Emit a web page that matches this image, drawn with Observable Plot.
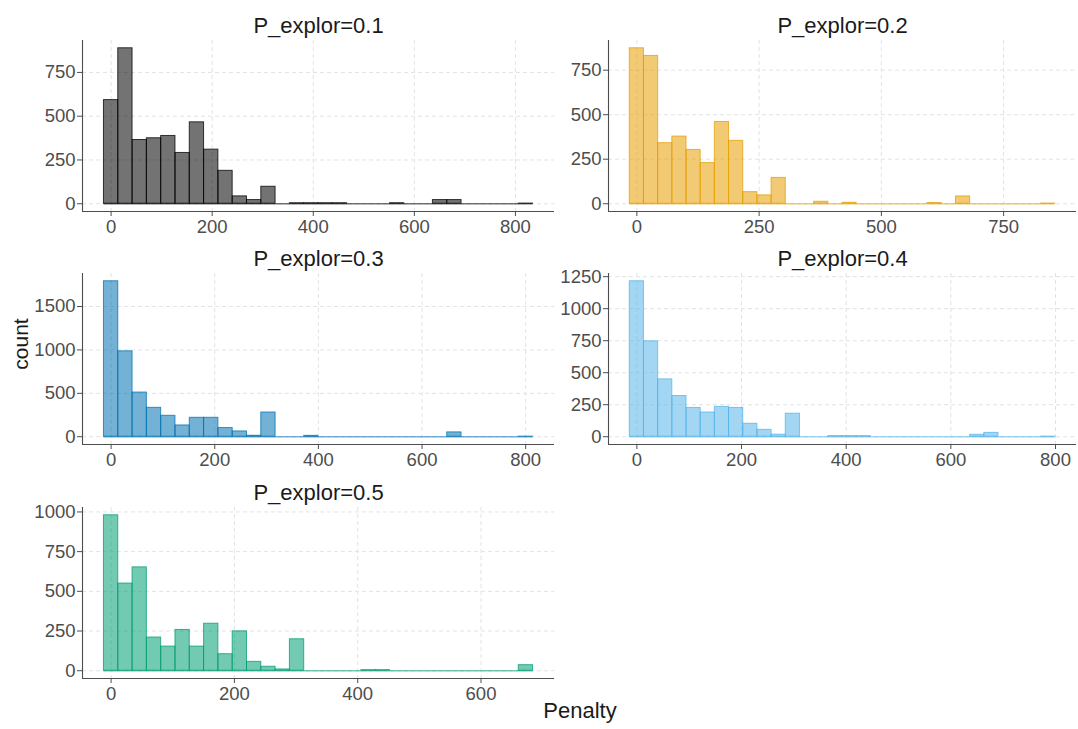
<!DOCTYPE html>
<html><head><meta charset="utf-8">
<script src="https://cdn.jsdelivr.net/npm/d3@7"></script>
<script src="https://cdn.jsdelivr.net/npm/@observablehq/plot@0.6"></script>
<style>
body{margin:0;background:#fff;}
#chart{position:relative;width:1078px;height:729px;font-family:"Liberation Sans",Arial,sans-serif;overflow:hidden;background:#fff;}
.panel{position:absolute;}
.lab{position:absolute;color:#1a1a1a;white-space:nowrap;line-height:22px;}
</style></head><body><div id="chart"></div>
<script>
// ---- data ----
const titles = ["P_explor=0.1", "P_explor=0.2", "P_explor=0.3", "P_explor=0.4", "P_explor=0.5"];
const colors = ["#000000", "#E69F00", "#0072B2", "#56B4E9", "#009E73"];
const binWidths = [28.3, 29.0, 27.6, 27.1, 23.2];

const counts01 = [592, 888, 364, 374, 387, 290, 465, 309, 188, 42, 21, 97, 0, 3, 3, 3, 3, 0, 0, 0, 3, 0, 0, 21, 21, 0, 0, 0, 0, 1];
const counts02 = [873, 830, 340, 377, 302, 228, 459, 353, 65, 47, 145, 0, 0, 11, 0, 5, 0, 0, 0, 0, 0, 4, 0, 41, 0, 0, 0, 0, 0, 1];
const counts03 = [1791, 984, 509, 333, 241, 130, 218, 218, 100, 61, 11, 279, 0, 0, 10, 0, 0, 0, 0, 0, 0, 0, 0, 0, 50, 0, 0, 0, 0, 1];
const counts04 = [1214, 745, 448, 318, 225, 189, 233, 225, 101, 54, 16, 180, 0, 0, 5, 5, 5, 0, 0, 0, 0, 0, 0, 0, 15, 30, 0, 0, 0, 1];
const counts05 = [979, 549, 651, 209, 152, 257, 152, 296, 104, 248, 56, 25, 8, 198, 0, 0, 0, 0, 4, 4, 0, 0, 0, 0, 0, 0, 0, 0, 0, 35];

const xTicks01 = [0, 200, 400, 600, 800];
const xTicks02 = [0, 250, 500, 750];
const xTicks03 = [0, 200, 400, 600, 800];
const xTicks04 = [0, 200, 400, 600, 800];
const xTicks05 = [0, 200, 400, 600];

const yTicks01 = [0, 250, 500, 750];
const yTicks02 = [0, 250, 500, 750];
const yTicks03 = [0, 500, 1000, 1500];
const yTicks04 = [0, 250, 500, 750, 1000, 1250];
const yTicks05 = [0, 250, 500, 750, 1000];

const xLabel = "Penalty";
const yLabel = "count";

// ---- layout ----
const countsAll = [counts01, counts02, counts03, counts04, counts05];
const xTicksAll = [xTicks01, xTicks02, xTicks03, xTicks04, xTicks05];
const yTicksAll = [yTicks01, yTicks02, yTicks03, yTicks04, yTicks05];
const slots = [
  {left: 0, top: 0, width: 560, ml: 82, mr: 6},
  {left: 560, top: 0, width: 518, ml: 48, mr: 2},
  {left: 0, top: 233, width: 560, ml: 82, mr: 6},
  {left: 560, top: 233, width: 518, ml: 48, mr: 2},
  {left: 0, top: 467, width: 560, ml: 82, mr: 6}
];
const chart = document.getElementById("chart");
const axisColor = "#4d4d4d";

countsAll.forEach((counts, p) => {
  const w = binWidths[p];
  const bins = counts.map((c, i) => ({x1: (i - 0.5) * w, x2: (i + 0.5) * w, count: c}));
  const lo = -w / 2, hi = (counts.length - 0.5) * w;
  const xpad = 0.05 * (hi - lo);
  const ymax = d3.max(counts);
  const xdom = [lo - xpad, hi + xpad];
  const ydom = [-0.05 * ymax, 1.05 * ymax];
  const col = colors[p];
  const s = slots[p];
  const svg = Plot.plot({
    width: s.width,
    height: 245,
    marginLeft: s.ml,
    marginRight: s.mr,
    marginTop: 40,
    marginBottom: 34,
    style: {fontFamily: '"Liberation Sans", Arial, sans-serif', color: axisColor, background: "transparent", overflow: "visible"},
    x: {domain: xdom, nice: false},
    y: {domain: ydom, nice: false},
    marks: [
      Plot.gridX(xTicksAll[p], {stroke: "#e3e3e3", strokeOpacity: 1, strokeDasharray: "4,3"}),
      Plot.gridY(yTicksAll[p], {stroke: "#e3e3e3", strokeOpacity: 1, strokeDasharray: "4,3"}),
      Plot.ruleY([0], {x1: lo, x2: hi, stroke: col, strokeOpacity: 0.55, strokeWidth: 1.5}),
      Plot.rect(bins.filter(d => d.count > 0), {x1: "x1", x2: "x2", y1: 0, y2: "count", fill: col, fillOpacity: 0.55, stroke: col, strokeOpacity: 0.75, strokeWidth: 1}),
      Plot.ruleX([xdom[0]], {stroke: axisColor, strokeWidth: 1.1}),
      Plot.ruleY([ydom[0]], {stroke: axisColor, strokeWidth: 1.1}),
      Plot.axisX(xTicksAll[p], {tickSize: 5, tickPadding: 3, fontSize: 18.5, label: null, tickFormat: d => String(d)}),
      Plot.axisY(yTicksAll[p], {tickSize: 5, tickPadding: 2, fontSize: 18.5, label: null, tickFormat: d => String(d)}),
      Plot.text([titles[p]], {frameAnchor: "top", dy: -15, fontSize: 22, fill: "#1a1a1a", lineAnchor: "middle"})
    ]
  });
  const div = document.createElement("div");
  div.className = "panel";
  div.style.left = s.left + "px";
  div.style.top = s.top + "px";
  div.appendChild(svg);
  chart.appendChild(div);
});

const xl = document.createElement("div");
xl.className = "lab";
xl.textContent = xLabel;
xl.style.fontSize = "22px";
xl.style.left = "580px";
xl.style.top = "700px";
xl.style.transform = "translateX(-50%)";
chart.appendChild(xl);

const yl = document.createElement("div");
yl.className = "lab";
yl.textContent = yLabel;
yl.style.fontSize = "21px";
yl.style.left = "21px";
yl.style.top = "344px";
yl.style.transform = "translate(-50%,-50%) rotate(-90deg)";
chart.appendChild(yl);
</script>
</body></html>
